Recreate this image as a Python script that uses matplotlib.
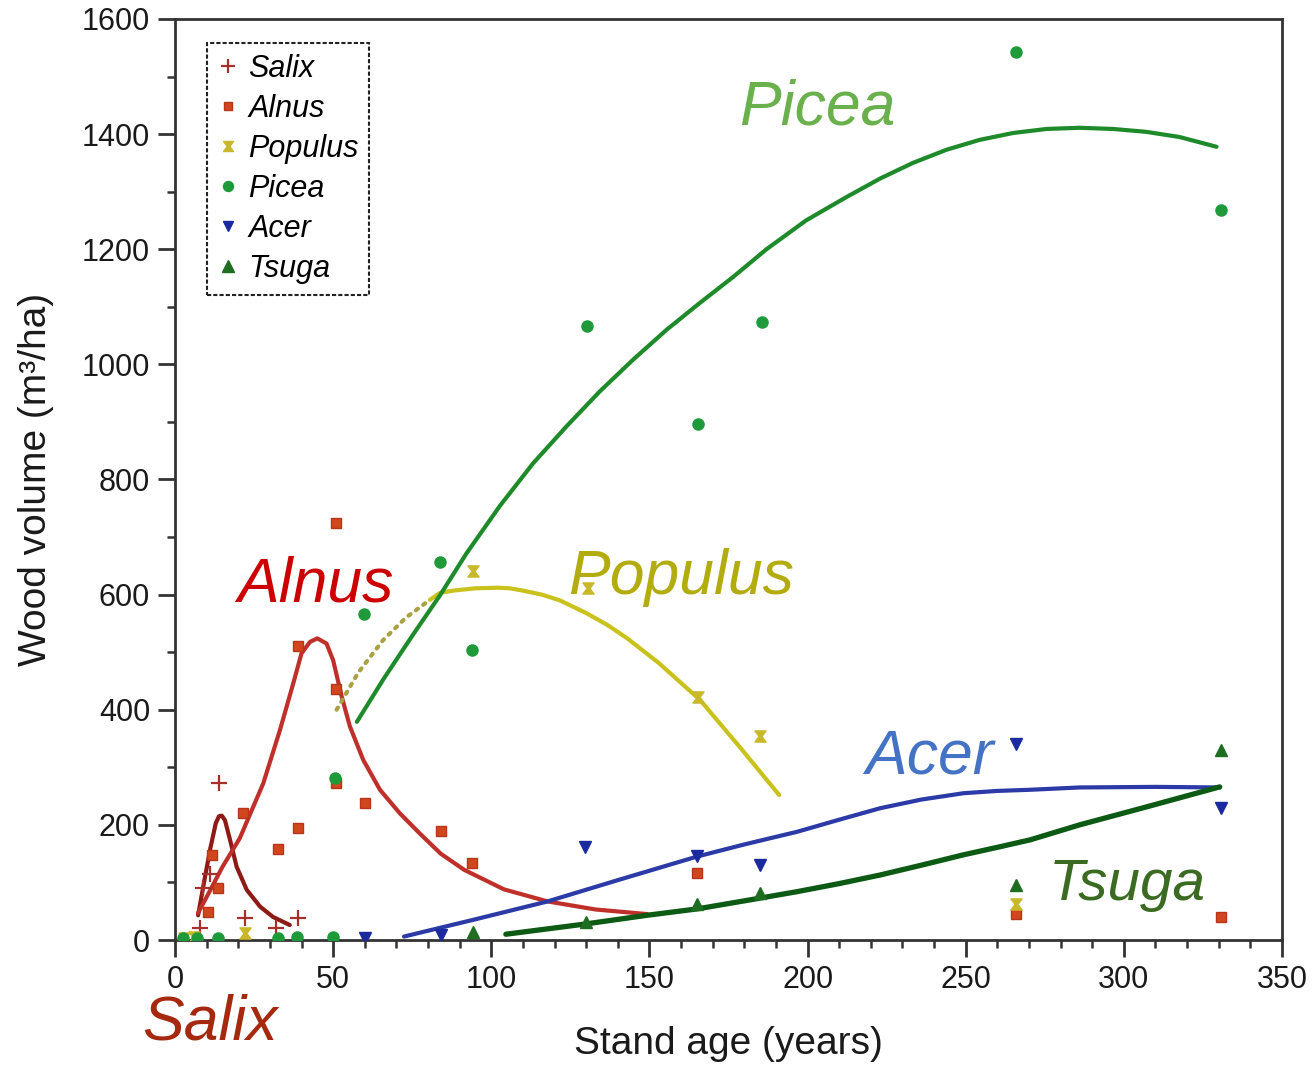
import numpy as np
import matplotlib
matplotlib.use("Agg")
import matplotlib.pyplot as plt
from matplotlib.path import Path
from matplotlib.ticker import MultipleLocator

plt.rcParams['font.family'] = ['Liberation Sans', 'DejaVu Sans']

# ---------------- data points ----------------
salix_x = [8, 9, 11, 14, 22, 32, 39]
salix_y = [20, 90, 115, 272, 38, 20, 38]

alnus_x = [10.4, 11.7, 13.6, 21.6, 32.6, 39, 39, 50.9, 50.9, 50.9, 60, 84, 94, 165, 265.8, 330.6]
alnus_y = [49, 148, 90, 221, 158, 511, 194, 724, 436, 272, 238, 190, 133, 116, 45, 40]

populus_x = [3, 6, 22, 94.3, 130.5, 165.3, 185, 265.8]
populus_y = [3, 5, 12, 641, 612, 422, 355, 62]

picea_x = [2.5, 7, 13.6, 32.6, 38.5, 50, 50.6, 59.7, 83.8, 93.9, 130.2, 165.3, 185.5, 265.8, 330.6]
picea_y = [3, 4, 4, 4, 5, 5, 281, 566, 657, 504, 1066, 897, 1073, 1543, 1268]

acer_x = [60, 84.2, 129.6, 165, 185, 265.8, 330.6]
acer_y = [3, 9, 161, 146, 130, 340, 230]

tsuga_x = [94.3, 129.8, 165, 185, 265.8, 330.6]
tsuga_y = [14, 32, 62, 82, 95, 330]

# ---------------- fitted curves ----------------
salix_cx = [7.3, 9.5, 11.2, 12.9, 13.9, 14.8, 15.8, 17.4, 19.5, 22.7, 26.9, 31, 36.3]
salix_cy = [43, 110, 160, 203, 215, 216, 208, 174, 127, 87, 58, 40, 26]

alnus_cx = [7.3, 11, 15, 20.5, 24, 27.9, 33.2, 37.4, 40, 42.7, 45, 47.9, 50, 52.7,
            55.3, 59.5, 64.8, 71.1, 77.4, 84, 91.4, 104, 117.8, 133, 149.3]
alnus_cy = [47, 85, 127, 177, 222, 272, 365, 446, 498, 518, 524, 515, 486, 423,
            371, 313, 261, 220, 185, 150, 122, 88, 67, 53, 45]

populus_dx = [51.1, 58, 65.8, 73, 80.6]
populus_dy = [400, 465, 521, 560, 591]

populus_cx = [80.6, 83.8, 88, 95, 102, 105.9, 110, 116, 121.7, 130, 136.5, 143, 153, 166, 178.6, 191]
populus_cy = [591, 603, 607, 611, 612, 611, 607, 600, 590, 568, 548, 524, 481, 417, 335, 252]

picea_cx = [57.5, 66, 75.2, 83.8, 92.2, 102.7, 113.2, 123.9, 134.3, 144.8, 155.4, 166,
            176.5, 187, 199.5, 212.4, 223, 233.3, 244, 254.4, 265, 275.6, 286, 296.5,
            307, 317.6, 329.3]
picea_cy = [379, 454, 530, 599, 672, 754, 828, 893, 953, 1008, 1060, 1107,
            1152, 1200, 1250, 1291, 1323, 1350, 1373, 1390, 1402, 1409, 1411, 1409,
            1404, 1395, 1378]

acer_cx = [72.4, 95, 117.8, 140, 165.1, 180, 196.7, 210, 223, 236, 249.3, 260, 270.4, 286, 310, 330.3]
acer_cy = [6, 36, 67, 104, 145, 166, 188, 209, 229, 244, 255, 259, 261, 265, 266, 265]

tsuga_cx = [104.6, 130, 149.3, 165.1, 180, 196.7, 210, 223, 236, 249.3, 260, 270.4, 286, 307, 330.3]
tsuga_cy = [10, 28, 43, 54, 68, 84, 98, 113, 130, 148, 161, 174, 200, 231, 266]

x_ticks = [0, 50, 100, 150, 200, 250, 300, 350]
y_ticks = [0, 200, 400, 600, 800, 1000, 1200, 1400, 1600]

# ---------------- figure ----------------
fig = plt.figure(figsize=(13.14, 10.65), dpi=100)
ax = fig.add_axes([175/1314, 1-940/1065, (1282-175)/1314, (940-19)/1065])

hourglass = Path([(-1, 1), (1, 1), (0.25, 0), (1, -1), (-1, -1), (-0.25, 0), (-1, 1)],
                 [Path.MOVETO, Path.LINETO, Path.LINETO, Path.LINETO, Path.LINETO,
                  Path.LINETO, Path.CLOSEPOLY])

c_salix_l = '#8e1a16'
c_alnus_l = '#c0302a'
c_pop_l = '#c9c21c'
c_picea_l = '#1e8a2a'
c_acer_l = '#2b3aa6'
c_tsuga_l = '#0d5a14'

line_kw = dict(solid_joinstyle='round', solid_capstyle='round', zorder=3)
ax.plot(salix_cx, salix_cy, color=c_salix_l, lw=3, **line_kw)
ax.plot(alnus_cx, alnus_cy, color=c_alnus_l, lw=3, **line_kw)
ax.plot(populus_dx, populus_dy, color='#a8a244', lw=3, ls=(0, (0.6, 1.6)),
        dash_capstyle='round', zorder=3)
ax.plot(populus_cx, populus_cy, color=c_pop_l, lw=3, **line_kw)
ax.plot(picea_cx, picea_cy, color=c_picea_l, lw=3, **line_kw)
ax.plot(acer_cx, acer_cy, color=c_acer_l, lw=3, **line_kw)
ax.plot(tsuga_cx, tsuga_cy, color=c_tsuga_l, lw=3.8, **line_kw)

ms = 8
ax.plot(salix_x, salix_y, ls='none', marker='+', ms=11, mew=1.6, color='#a8302c', label='Salix', zorder=4)
ax.plot(alnus_x, alnus_y, ls='none', marker='s', ms=7, color='#d2461e', mec='#b8341a', label='Alnus', zorder=4)
ax.plot(populus_x, populus_y, ls='none', marker=hourglass, ms=8, color='#c8b82a', label='Populus', zorder=4)
ax.plot(picea_x, picea_y, ls='none', marker='o', ms=ms, color='#1f9a3a', label='Picea', zorder=4)
ax.plot(acer_x, acer_y, ls='none', marker='v', ms=ms, color='#1c2aa0', label='Acer', zorder=4)
ax.plot(tsuga_x, tsuga_y, ls='none', marker='^', ms=9, color='#1e6e22', label='Tsuga', zorder=4)

ax.set_xlim(0, 350)
ax.set_ylim(0, 1600)
ax.set_xticks(x_ticks)
ax.set_yticks(y_ticks)
ax.xaxis.set_minor_locator(MultipleLocator(10))
ax.yaxis.set_minor_locator(MultipleLocator(100))
ax.tick_params(which='major', direction='out', length=12, width=2, color='#333333',
               labelsize=22, labelcolor='#1a1a1a', pad=6)
ax.tick_params(which='minor', direction='out', length=6, width=1.8, color='#333333')
for s in ax.spines.values():
    s.set_linewidth(2)
    s.set_color('#333333')

ax.set_xlabel('Stand age (years)', fontsize=28, color='#1a1a1a', labelpad=22)
ax.set_ylabel('Wood volume (m³/ha)', fontsize=28, color='#1a1a1a', labelpad=20)

leg = ax.legend(loc='upper left', bbox_to_anchor=(207/1314, 1-43/1065),
                bbox_transform=fig.transFigure, borderaxespad=0,
                prop={'style': 'italic', 'size': 22}, handlelength=0.7,
                handletextpad=0.3, labelspacing=0.33, borderpad=0.35,
                fancybox=False, framealpha=1, edgecolor='#222222', markerscale=0.9)
leg.get_frame().set_linestyle((0, (2, 1)))
leg.get_frame().set_linewidth(1.5)

lbl = dict(style='italic', fontsize=45, ha='center', va='center', zorder=5)
ax.text(203, 1445, 'Picea', color='#6ab04c', **lbl)
ax.text(160, 629, 'Populus', color='#b3ac0f', **lbl)
ax.text(44.2, 617, 'Alnus', color='#cc0000', **lbl)
ax.text(238.6, 318, 'Acer', color='#4472c4', **lbl)
ax.text(301, 96, 'Tsuga', color='#3b6b23', style='italic', fontsize=42,
        ha='center', va='center', zorder=5)
ax.text(11, -144, 'Salix', color='#a5280f', clip_on=False, **lbl)

fig.savefig('out.png', dpi=100)
